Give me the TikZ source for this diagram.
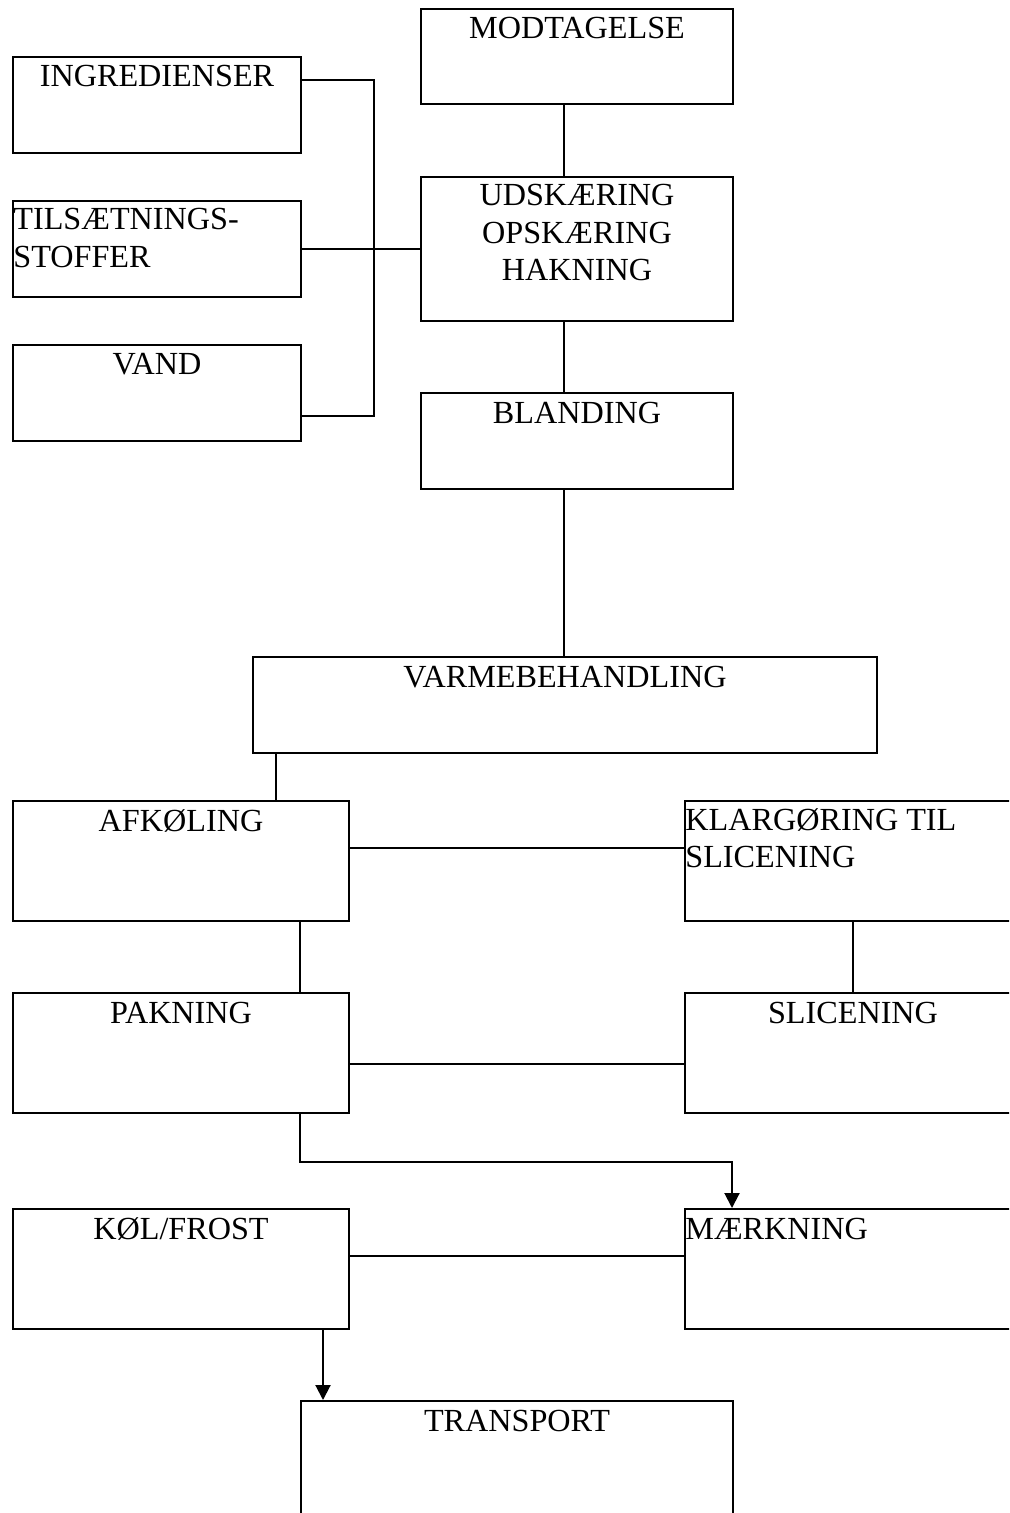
\documentclass[tikz,border=0pt]{standalone}
\usepackage{fontspec}
\setmainfont{Liberation Serif}
\usetikzlibrary{calc,arrows.meta}
\begin{document}
\begin{tikzpicture}[x=0.5pt,y=-0.5pt,
  box/.style={draw, line width=1pt, inner sep=0pt, anchor=north west, rectangle},
  sz/.style 2 args={minimum width=#1*0.5pt, minimum height=#2*0.5pt},
  lbl/.style={font=\fontsize{16.1}{18.75}\selectfont, inner sep=0pt, anchor=base, align=center},
  lbll/.style={font=\fontsize{16.1}{18.75}\selectfont, inner sep=0pt, anchor=base west, align=left},
  conn/.style={line width=1pt},
  arr/.style={line width=1pt, -{Triangle[width=7.5pt,length=7.5pt]}}]
\useasboundingbox (0,0) rectangle (1009,1513);
\clip (0,0) rectangle (1009,1513);
\fill[white] (0,0) rectangle (1009,1513);
% boxes
\node[box, sz={312}{95}]  (mod)   at (420,8) {};
\node[box, sz={288}{96}]  (ing)   at (12,56) {};
\node[box, sz={288}{96}]  (tils)  at (12,200) {};
\node[box, sz={288}{96}]  (vand)  at (12,344) {};
\node[box, sz={312}{144}] (uds)   at (420,176) {};
\node[box, sz={312}{96}]  (bland) at (420,392) {};
\node[box, sz={624}{96}]  (varme) at (252,656) {};
\node[box, sz={336}{120}] (afk)   at (12,800) {};
\node[box, sz={336}{120}] (klar)  at (684,800) {};
\node[box, sz={336}{120}] (pak)   at (12,992) {};
\node[box, sz={336}{120}] (slic)  at (684,992) {};
\node[box, sz={336}{120}] (kol)   at (12,1208) {};
\node[box, sz={336}{120}] (maerk) at (684,1208) {};
\node[box, sz={432}{160}] (trans) at (300,1400) {};
% labels (base anchor = baseline of the last line)
\node[lbl]  (modT)   at ($(mod.north)+(0,31)$) {MODTAGELSE};
\node[lbl]  (ingT)   at ($(ing.north)+(0,31)$) {INGREDIENSER};
\node[lbll] (tilsT)  at ($(tils.north west)+(1,67.5)$) {TILSÆTNINGS-\\STOFFER};
\node[lbl]  (vandT)  at ($(vand.north)+(0,31)$) {VAND};
\node[lbl]  (udsT)   at ($(uds.north)+(0,105)$) {UDSKÆRING\\OPSKÆRING\\HAKNING};
\node[lbl]  (blandT) at ($(bland.north)+(0,31)$) {BLANDING};
\node[lbl]  (varmeT) at ($(varme.north)+(0,31)$) {VARMEBEHANDLING};
\node[lbl]  (afkT)   at ($(afk.north)+(0,31)$) {AFKØLING};
\node[lbll] (klarT)  at ($(klar.north west)+(1,67.5)$) {KLARGØRING TIL\\SLICENING};
\node[lbl]  (pakT)   at ($(pak.north)+(0,31)$) {PAKNING};
\node[lbl]  (slicT)  at ($(slic.north)+(0,31)$) {SLICENING};
\node[lbl]  (kolT)   at ($(kol.north)+(0,31)$) {KØL/FROST};
\node[lbll] (maerkT) at ($(maerk.north west)+(1,31)$) {MÆRKNING};
\node[lbl]  (transT) at ($(trans.north)+(0,31)$) {TRANSPORT};
% connectors
\draw[conn] ($(mod.south west)+(144,0)$) -- ($(uds.north west)+(144,0)$);
\draw[conn] ($(uds.south west)+(144,0)$) -- ($(bland.north west)+(144,0)$);
\draw[conn] ($(bland.south west)+(144,0)$) -- ($(varme.north west)+(312,0)$);
\draw[conn] ($(ing.north east)+(0,24)$) -| ($(tils.east)+(72,0)$) |- ($(vand.north east)+(0,72)$);
\draw[conn] (tils.east) -- (uds.west);
\draw[conn] ($(varme.south west)+(24,0)$) -- ($(afk.north west)+(264,0)$);
\draw[conn] ($(afk.north east)+(0,48)$) -- ($(klar.north west)+(0,48)$);
\draw[conn] (klar.south) -- (slic.north);
\draw[conn] ($(afk.south west)+(288,0)$) -- ($(pak.north west)+(288,0)$);
\draw[conn] ($(pak.north east)+(0,72)$) -- ($(slic.north west)+(0,72)$);
\draw[arr] ($(pak.south west)+(288,0)$) -- ++(0,48) -| ($(maerk.north west)+(48,0)$);
\draw[conn] ($(kol.north east)+(0,48)$) -- ($(maerk.north west)+(0,48)$);
\draw[arr] ($(kol.south west)+(311,0)$) -- ($(trans.north west)+(23,0)$);
\end{tikzpicture}
\end{document}
